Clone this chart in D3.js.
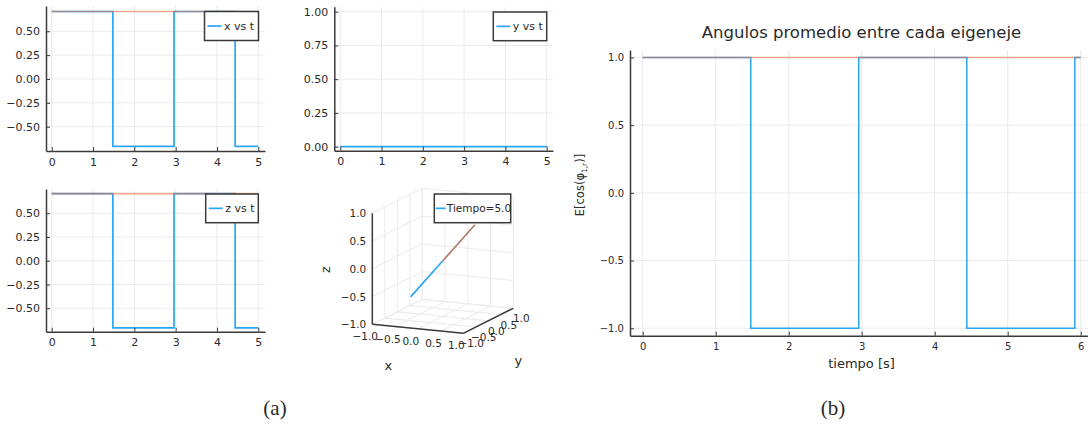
<!DOCTYPE html>
<html>
<head>
<meta charset="utf-8">
<script src="https://cdn.jsdelivr.net/npm/d3@7"></script>
<style>
  html, body { margin: 0; padding: 0; background: #fff; }
  svg { display: block; }
  text { font-family: "DejaVu Sans", sans-serif; fill: #2a2a2a; }
</style>
</head>
<body>
<svg id="fig" width="1088" height="426"></svg>
<script>
// ---- data ----
// component traces of the first eigen-axis (step changes in time)
const tComp = [0, 1.48, 2.96, 4.44, 5.0];
const xComp = [0.7071, -0.7071, 0.7071, -0.7071, -0.7071];
const yComp = [0, 0, 0, 0, 0];
const zComp = [0.7071, -0.7071, 0.7071, -0.7071, -0.7071];
// reference axis components (constant)
const tRef = [0, 5.0];
const xRef = [0.7071, 0.7071];
const zRef = [0.7071, 0.7071];

// average cosine between eigen-axes
const tCos = [0, 1.48, 2.96, 4.44, 5.92, 6.0];
const cosVal = [1, -1, 1, -1, 1, 1];
const tCosRef = [0, 6.0];
const cosRef = [1, 1];

// 3D snapshot at t = 5.0 : both axes as vectors from the origin
const vecAxis = [-0.7071, 0, -0.7071];
const vecRef = [0.7071, 0, 0.7071];

const ticksT5 = [0, 1, 2, 3, 4, 5];
const ticksComp = [-0.5, -0.25, 0, 0.25, 0.5];
const ticksY = [0, 0.25, 0.5, 0.75, 1.0];
const ticksT6 = [0, 1, 2, 3, 4, 5, 6];
const ticksCos = [-1, -0.5, 0, 0.5, 1];
const ticks3D = [-1, -0.5, 0, 0.5, 1];

const BLUE = "#2aa6f6";
const ORANGE = "#E36F47";
const BROWN = "#b27b6e";
const AXIS = "#3a3a3a";
const GRID = "#ebebeb";

const svg = d3.select("#fig");

function panel(opt) {
  const g = svg.append("g");
  const xs = d3.scaleLinear(opt.xd, opt.xr);
  const ys = d3.scaleLinear(opt.yd, opt.yr);
  const [x0, x1] = opt.xr, [y0, y1] = opt.yr; // y0 bottom, y1 top
  // grid
  g.selectAll(".gx").data(opt.xt).join("line")
    .attr("x1", d => xs(d)).attr("x2", d => xs(d))
    .attr("y1", y0).attr("y2", y1)
    .attr("stroke", GRID).attr("stroke-width", 1);
  g.selectAll(".gy").data(opt.yt).join("line")
    .attr("x1", x0).attr("x2", x1)
    .attr("y1", d => ys(d)).attr("y2", d => ys(d))
    .attr("stroke", GRID).attr("stroke-width", 1);
  // series
  const line = d3.line().x(d => xs(d[0])).y(d => ys(d[1])).curve(d3.curveStepAfter);
  opt.series.forEach(s => {
    g.append("path").datum(d3.zip(s.t, s.v))
      .attr("d", line).attr("fill", "none")
      .attr("stroke", s.color).attr("stroke-width", s.w || 1.7)
      .attr("stroke-opacity", s.alpha || 1);
  });
  // axes
  const ax = g.append("g").attr("transform", `translate(0,${y0})`)
    .call(d3.axisBottom(xs).tickValues(opt.xt).tickFormat(d3.format("d"))
      .tickSizeInner(-4).tickSizeOuter(0).tickPadding(7));
  const ay = g.append("g").attr("transform", `translate(${x0},0)`)
    .call(d3.axisLeft(ys).tickValues(opt.yt).tickFormat(d3.format(opt.yf))
      .tickSizeInner(-4).tickSizeOuter(0).tickPadding(6));
  [ax, ay].forEach(a => {
    a.select(".domain").attr("stroke", AXIS).attr("stroke-width", 1.5);
    a.selectAll(".tick line").attr("stroke", AXIS).attr("stroke-width", 1);
    a.selectAll(".tick text").style("font-family", "DejaVu Sans, sans-serif")
      .style("font-size", opt.fs + "px").attr("fill", "#2a2a2a");
  });
  // legend
  if (opt.legend) {
    const L = opt.legend;
    const lg = g.append("g");
    lg.append("rect").attr("x", L.x).attr("y", L.y).attr("width", L.w).attr("height", L.h)
      .attr("fill", "#fff").attr("stroke", AXIS).attr("stroke-width", 1.5);
    const cy = L.y + L.h / 2;
    lg.append("line").attr("x1", L.x + 3).attr("x2", L.x + 17).attr("y1", cy).attr("y2", cy)
      .attr("stroke", BLUE).attr("stroke-width", 1.7);
    lg.append("text").attr("x", L.x + 19.5).attr("y", cy + 3.8)
      .style("font-size", "11px").text(L.label);
  }
  return { g, xs, ys };
}

// (a) x vs t
panel({
  xd: [-0.138, 5.162], xr: [46, 265], yd: [-0.755, 0.765], yr: [151, 6],
  xt: ticksT5, yt: ticksComp, yf: ".2f", fs: 11,
  series: [
    { t: tComp, v: xComp, color: BLUE },
    { t: tRef, v: xRef, color: ORANGE, alpha: 0.6 }
  ],
  legend: { x: 204.5, y: 11.5, w: 54, h: 29, label: "x vs t" }
});
// (a) y vs t
panel({
  xd: [-0.145, 5.153], xr: [334.3, 553], yd: [-0.03, 1.037], yr: [150.7, 6.7],
  xt: ticksT5, yt: ticksY, yf: ".2f", fs: 11,
  series: [{ t: tComp, v: yComp, color: BLUE }],
  legend: { x: 493.3, y: 12, w: 53.4, h: 28.7, label: "y vs t" }
});
// (a) z vs t
panel({
  xd: [-0.138, 5.162], xr: [46, 265], yd: [-0.747, 0.755], yr: [331.7, 189],
  xt: ticksT5, yt: ticksComp, yf: ".2f", fs: 11,
  series: [
    { t: tComp, v: zComp, color: BLUE },
    { t: tRef, v: zRef, color: ORANGE, alpha: 0.6 }
  ],
  legend: { x: 205.7, y: 194, w: 52.6, h: 28.7, label: "z vs t" }
});

// (a) 3D view of the axes at the final time
(function () {
  const g = svg.append("g");
  const o = [372.3, 324.3];
  const ex = [45.5, 4.5], ey = [25, -12.5], ez = [0, -55.5];
  const P = (x, y, z) => [
    o[0] + (x + 1) * ex[0] + (y + 1) * ey[0] + (z + 1) * ez[0],
    o[1] + (x + 1) * ex[1] + (y + 1) * ey[1] + (z + 1) * ez[1]
  ];
  const seg = (a, b, stroke, w) => g.append("line")
    .attr("x1", a[0]).attr("y1", a[1]).attr("x2", b[0]).attr("y2", b[1])
    .attr("stroke", stroke).attr("stroke-width", w);
  // grid on the three back planes
  ticks3D.forEach(v => {
    seg(P(v, -1, -1), P(v, 1, -1), GRID, 1);
    seg(P(-1, v, -1), P(1, v, -1), GRID, 1);
    seg(P(v, 1, -1), P(v, 1, 1), GRID, 1);
    seg(P(-1, 1, v), P(1, 1, v), GRID, 1);
    seg(P(-1, v, -1), P(-1, v, 1), GRID, 1);
    seg(P(-1, -1, v), P(-1, 1, v), GRID, 1);
  });
  // axes
  seg(P(-1, -1, -1), P(-1, -1, 1), AXIS, 1.5);
  seg(P(-1, -1, -1), P(1, -1, -1), AXIS, 1.5);
  seg(P(1, -1, -1), P(1, 1, -1), AXIS, 1.5);
  const fmt = d3.format(".1f");
  ticks3D.forEach(v => {
    const pz = P(-1, -1, v);
    g.append("text").attr("x", pz[0] - 6).attr("y", pz[1] + 4)
      .attr("text-anchor", "end").style("font-size", "10.5px").text(fmt(v));
    const px = P(v, -1, -1);
    g.append("text").attr("x", px[0] - 7).attr("y", px[1] + 16)
      .attr("text-anchor", "middle").style("font-size", "10.5px").text(fmt(v));
    const py = P(1, v, -1);
    g.append("text").attr("x", py[0] + 8).attr("y", py[1] + 14)
      .attr("text-anchor", "middle").style("font-size", "10.5px").text(fmt(v));
  });
  g.append("text").attr("transform", "translate(330,269.5) rotate(-90)")
    .attr("text-anchor", "middle").style("font-size", "13px").text("z");
  g.append("text").attr("x", 388.3).attr("y", 370)
    .attr("text-anchor", "middle").style("font-size", "13px").text("x");
  g.append("text").attr("x", 518.3).attr("y", 365)
    .attr("text-anchor", "middle").style("font-size", "13px").text("y");
  // vectors from the origin
  seg(P(0, 0, 0), P(...vecAxis), BLUE, 1.7);
  seg(P(0, 0, 0), P(...vecRef), BROWN, 1.7);
  // legend
  const L = { x: 434.3, y: 194, w: 76.4, h: 28.7 };
  g.append("rect").attr("x", L.x).attr("y", L.y).attr("width", L.w).attr("height", L.h)
    .attr("fill", "#fff").attr("stroke", AXIS).attr("stroke-width", 1.5);
  const cy = L.y + L.h / 2;
  g.append("line").attr("x1", L.x + 1.5).attr("x2", L.x + 11.5).attr("y1", cy).attr("y2", cy)
    .attr("stroke", BLUE).attr("stroke-width", 1.7);
  g.append("text").attr("x", L.x + 12.5).attr("y", cy + 3.8)
    .style("font-size", "10.5px").text("Tiempo=5.0");
})();

// (b) average angle between the eigen-axes
panel({
  xd: [-0.174, 6.174], xr: [630, 1093.4], yd: [-1.055, 1.055], yr: [335.7, 50],
  xt: ticksT6, yt: ticksCos, yf: ".1f", fs: 10,
  series: [
    { t: tCos, v: cosVal, color: BLUE, w: 1.5 },
    { t: tCosRef, v: cosRef, color: ORANGE, alpha: 0.6, w: 1.5 }
  ]
});
svg.append("text").attr("x", 861.5).attr("y", 38).attr("text-anchor", "middle")
  .style("font-size", "16.5px").attr("fill", "#1a1a1a").text("Angulos promedio entre cada eigeneje");
svg.append("text").attr("x", 861.5).attr("y", 368).attr("text-anchor", "middle")
  .style("font-size", "13px").text("tiempo [s]");
const yl = svg.append("text").attr("transform", "translate(584,185) rotate(-90)")
  .attr("text-anchor", "middle").style("font-size", "11.5px");
yl.append("tspan").text("E[cos(φ");
yl.append("tspan").attr("dy", 3).style("font-size", "7.5px").text("1,r");
yl.append("tspan").attr("dy", -3).text(")]");

// sub-figure captions
svg.append("text").attr("x", 275).attr("y", 415).attr("text-anchor", "middle")
  .style("font-family", "Liberation Serif, serif").style("font-size", "21px").attr("fill", "#111").text("(a)");
svg.append("text").attr("x", 833).attr("y", 415).attr("text-anchor", "middle")
  .style("font-family", "Liberation Serif, serif").style("font-size", "21px").attr("fill", "#111").text("(b)");
</script>
</body>
</html>
